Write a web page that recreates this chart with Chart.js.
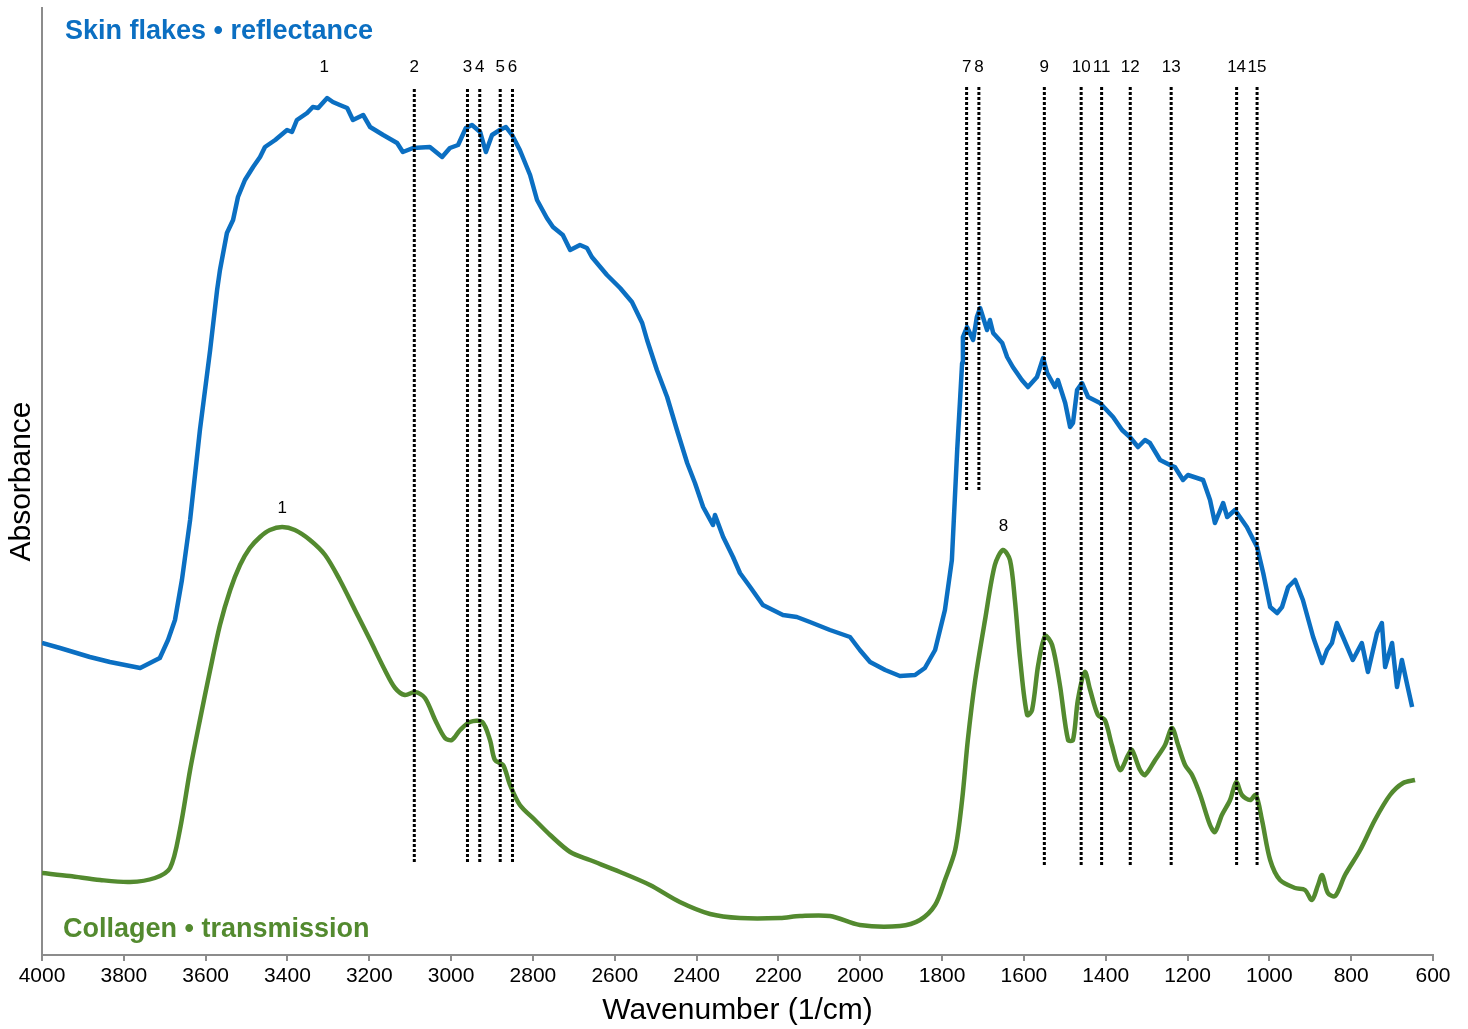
<!DOCTYPE html>
<html>
<head>
<meta charset="utf-8">
<script src="https://cdn.jsdelivr.net/npm/chart.js@4/dist/chart.umd.min.js"></script>
<style>
  html, body { margin: 0; padding: 0; background: #fff; }
  #wrap { width: 1468px; height: 1029px; }
</style>
</head>
<body>
<div id="wrap"><canvas id="ftirChart"></canvas></div>
<script>
// FTIR spectra: skin flakes (reflectance) vs collagen (transmission)

// Skin flakes spectrum, wavenumber (1/cm) and absorbance (arb. units)
const skinWn = [4000, 3956, 3883, 3834, 3760, 3712, 3692, 3675, 3658, 3638, 3614, 3589, 3572, 3565, 3548, 3533, 3521, 3504, 3484, 3467, 3455, 3430, 3401, 3389, 3377, 3352, 3338, 3325, 3303, 3289, 3272, 3254, 3240, 3215, 3198, 3166, 3132, 3118, 3093, 3052, 3022, 3003, 2983, 2964, 2949, 2929, 2915, 2900, 2881, 2866, 2851, 2832, 2807, 2790, 2766, 2751, 2727, 2709, 2685, 2668, 2656, 2619, 2587, 2558, 2533, 2521, 2497, 2472, 2448, 2423, 2404, 2384, 2360, 2355, 2335, 2311, 2294, 2269, 2238, 2189, 2155, 2123, 2074, 2025, 2001, 1976, 1939, 1903, 1866, 1842, 1817, 1793, 1776, 1763, 1756, 1751, 1749, 1739, 1724, 1715, 1707, 1690, 1683, 1675, 1653, 1641, 1627, 1605, 1590, 1568, 1553, 1543, 1524, 1517, 1499, 1487, 1480, 1470, 1458, 1443, 1414, 1382, 1360, 1341, 1321, 1304, 1292, 1267, 1243, 1231, 1211, 1199, 1162, 1145, 1133, 1113, 1103, 1084, 1055, 1030, 1015, 998, 981, 969, 954, 937, 918, 893, 871, 859, 847, 835, 820, 796, 774, 759, 737, 725, 717, 700, 688, 676, 664, 651];
const skinAbs = [0.312, 0.307, 0.298, 0.293, 0.287, 0.297, 0.315, 0.335, 0.375, 0.435, 0.525, 0.605, 0.665, 0.685, 0.722, 0.735, 0.758, 0.775, 0.788, 0.798, 0.808, 0.815, 0.825, 0.823, 0.835, 0.842, 0.848, 0.847, 0.857, 0.853, 0.850, 0.847, 0.835, 0.840, 0.828, 0.820, 0.812, 0.803, 0.807, 0.808, 0.798, 0.807, 0.810, 0.827, 0.830, 0.823, 0.803, 0.820, 0.825, 0.828, 0.820, 0.805, 0.780, 0.755, 0.737, 0.728, 0.720, 0.705, 0.710, 0.707, 0.698, 0.680, 0.667, 0.653, 0.632, 0.615, 0.585, 0.558, 0.525, 0.492, 0.472, 0.448, 0.430, 0.440, 0.418, 0.398, 0.382, 0.368, 0.350, 0.340, 0.338, 0.333, 0.325, 0.318, 0.305, 0.293, 0.285, 0.279, 0.280, 0.287, 0.305, 0.345, 0.395, 0.505, 0.555, 0.592, 0.618, 0.628, 0.615, 0.638, 0.647, 0.625, 0.635, 0.622, 0.612, 0.598, 0.588, 0.575, 0.568, 0.578, 0.597, 0.582, 0.568, 0.575, 0.552, 0.528, 0.532, 0.565, 0.572, 0.558, 0.552, 0.538, 0.525, 0.518, 0.508, 0.515, 0.512, 0.495, 0.490, 0.488, 0.475, 0.480, 0.475, 0.455, 0.432, 0.452, 0.438, 0.445, 0.428, 0.408, 0.382, 0.348, 0.342, 0.348, 0.368, 0.375, 0.355, 0.318, 0.292, 0.305, 0.312, 0.332, 0.318, 0.295, 0.312, 0.283, 0.322, 0.332, 0.288, 0.312, 0.268, 0.295, 0.272, 0.248];

// Collagen spectrum
const collWn = [4000, 3932, 3858, 3785, 3724, 3687, 3663, 3638, 3614, 3589, 3565, 3540, 3516, 3492, 3467, 3443, 3413, 3382, 3345, 3308, 3272, 3235, 3198, 3162, 3137, 3113, 3088, 3064, 3039, 3015, 2998, 2978, 2954, 2924, 2905, 2893, 2873, 2856, 2832, 2795, 2758, 2709, 2661, 2587, 2514, 2441, 2367, 2294, 2196, 2147, 2074, 2001, 1903, 1854, 1817, 1793, 1768, 1751, 1737, 1719, 1695, 1671, 1651, 1634, 1622, 1609, 1592, 1580, 1565, 1548, 1531, 1512, 1492, 1480, 1468, 1451, 1438, 1419, 1402, 1385, 1365, 1345, 1336, 1316, 1304, 1279, 1255, 1238, 1223, 1206, 1189, 1169, 1145, 1133, 1116, 1096, 1081, 1067, 1047, 1033, 1018, 998, 974, 937, 913, 896, 881, 871, 857, 839, 815, 778, 742, 705, 673, 644];
const collAbs = [0.082, 0.079, 0.075, 0.073, 0.077, 0.087, 0.125, 0.185, 0.235, 0.285, 0.330, 0.365, 0.390, 0.407, 0.418, 0.425, 0.428, 0.425, 0.415, 0.400, 0.375, 0.345, 0.315, 0.285, 0.267, 0.260, 0.263, 0.257, 0.235, 0.217, 0.215, 0.225, 0.233, 0.233, 0.215, 0.195, 0.190, 0.170, 0.150, 0.135, 0.120, 0.103, 0.095, 0.083, 0.070, 0.053, 0.041, 0.037, 0.037, 0.039, 0.039, 0.030, 0.029, 0.035, 0.050, 0.075, 0.105, 0.155, 0.215, 0.275, 0.335, 0.390, 0.405, 0.395, 0.355, 0.295, 0.240, 0.245, 0.290, 0.319, 0.310, 0.270, 0.215, 0.215, 0.255, 0.283, 0.265, 0.240, 0.235, 0.210, 0.185, 0.200, 0.205, 0.185, 0.180, 0.195, 0.210, 0.227, 0.210, 0.190, 0.180, 0.160, 0.130, 0.123, 0.140, 0.155, 0.173, 0.160, 0.155, 0.160, 0.135, 0.095, 0.075, 0.067, 0.065, 0.055, 0.070, 0.080, 0.062, 0.059, 0.080, 0.105, 0.135, 0.160, 0.172, 0.175];

// Band markers (dotted lines) and their labels
const bandWn = [3090, 2960, 2930, 2880, 2850, 1740, 1710, 1550, 1460, 1410, 1340, 1240, 1080, 1030];
const bandLabels = ['2', '3', '4', '5', '6', '7', '8', '9', '10', '11', '12', '13', '14', '15'];
const bandBottom = [0.093, 0.093, 0.093, 0.093, 0.093, 0.465, 0.465, 0.090, 0.090, 0.090, 0.090, 0.090, 0.090, 0.090];
const bandTop = 0.868;
const labelLevel = 0.888;
const skinPeak1 = 3310;
const collPeakWn = [3413, 1650];
const collPeakLabels = ['1', '8'];
const collPeakLevel = [0.447, 0.429];

const xTicks = [4000, 3800, 3600, 3400, 3200, 3000, 2800, 2600, 2400, 2200, 2000, 1800, 1600, 1400, 1200, 1000, 800, 600];

const BLUE = '#0b6fc2';
const GREEN = '#538a2f';
const FONT = "'Liberation Sans', Arial, Helvetica, sans-serif";

const toPoints = (xs, ys) => xs.map((x, i) => ({ x: x, y: ys[i] }));

const datasets = [];
bandWn.forEach((wn, i) => {
  datasets.push({
    data: [{ x: wn, y: bandBottom[i] }, { x: wn, y: bandTop }],
    borderColor: '#000',
    borderWidth: 3,
    borderDash: [3, 2],
    pointRadius: 0,
    order: 0
  });
});
datasets.push({
  label: 'Skin flakes',
  data: toPoints(skinWn, skinAbs),
  borderColor: BLUE,
  borderWidth: 4.5,
  borderJoinStyle: 'round',
  pointRadius: 0,
  tension: 0,
  order: 2
});
datasets.push({
  label: 'Collagen',
  data: toPoints(collWn, collAbs),
  borderColor: GREEN,
  borderWidth: 4.5,
  pointRadius: 0,
  tension: 0.3,
  order: 1
});

// Writes the band numbers and series names
const annotations = {
  id: 'annotations',
  afterDatasetsDraw(chart) {
    const ctx = chart.ctx;
    const xs = chart.scales.x;
    const ys = chart.scales.y;
    const area = chart.chartArea;
    ctx.save();
    ctx.textAlign = 'center';
    ctx.textBaseline = 'middle';
    ctx.fillStyle = '#000';
    ctx.font = '17px ' + FONT;
    ctx.fillText('1', xs.getPixelForValue(skinPeak1), ys.getPixelForValue(labelLevel));
    bandWn.forEach((wn, i) => {
      ctx.fillText(bandLabels[i], xs.getPixelForValue(wn), ys.getPixelForValue(labelLevel));
    });
    collPeakWn.forEach((wn, i) => {
      ctx.fillText(collPeakLabels[i], xs.getPixelForValue(wn), ys.getPixelForValue(collPeakLevel[i]));
    });
    ctx.textAlign = 'left';
    ctx.font = 'bold 27px ' + FONT;
    ctx.fillStyle = BLUE;
    ctx.fillText('Skin flakes \u2022 reflectance', area.left + 23, 32);
    ctx.fillStyle = GREEN;
    ctx.fillText('Collagen \u2022 transmission', area.left + 21, 930);
    ctx.restore();
  }
};

new Chart(document.getElementById('ftirChart'), {
  type: 'line',
  data: { datasets: datasets },
  options: {
    responsive: true,
    maintainAspectRatio: false,
    animation: false,
    layout: { padding: { top: 8, right: 35, left: 0, bottom: 0 } },
    plugins: {
      legend: { display: false },
      tooltip: { enabled: false }
    },
    scales: {
      x: {
        type: 'linear',
        reverse: true,
        min: 600,
        max: 4000,
        afterBuildTicks: (scale) => { scale.ticks = xTicks.map(v => ({ value: v })); },
        afterFit: (scale) => { scale.height = 74; },
        border: { color: '#8c8c8c', width: 2 },
        grid: { drawOnChartArea: false, color: '#8c8c8c', lineWidth: 2, tickLength: 6 },
        ticks: {
          color: '#000',
          font: { family: FONT, size: 21 },
          padding: 3,
          maxRotation: 0,
          autoSkip: false,
          callback: (v) => String(v)
        },
        title: {
          display: true,
          text: 'Wavenumber (1/cm)',
          color: '#000',
          font: { family: FONT, size: 30 },
          padding: { top: 2, bottom: 0 }
        }
      },
      y: {
        min: 0,
        max: 0.947,
        afterFit: (scale) => { scale.width = 42; },
        border: { color: '#8c8c8c', width: 2 },
        grid: { display: false },
        ticks: { display: false },
        title: {
          display: true,
          text: 'Absorbance',
          color: '#000',
          font: { family: FONT, size: 30 },
          padding: { top: 4, bottom: 4 }
        }
      }
    }
  },
  plugins: [annotations]
});
</script>
</body>
</html>
